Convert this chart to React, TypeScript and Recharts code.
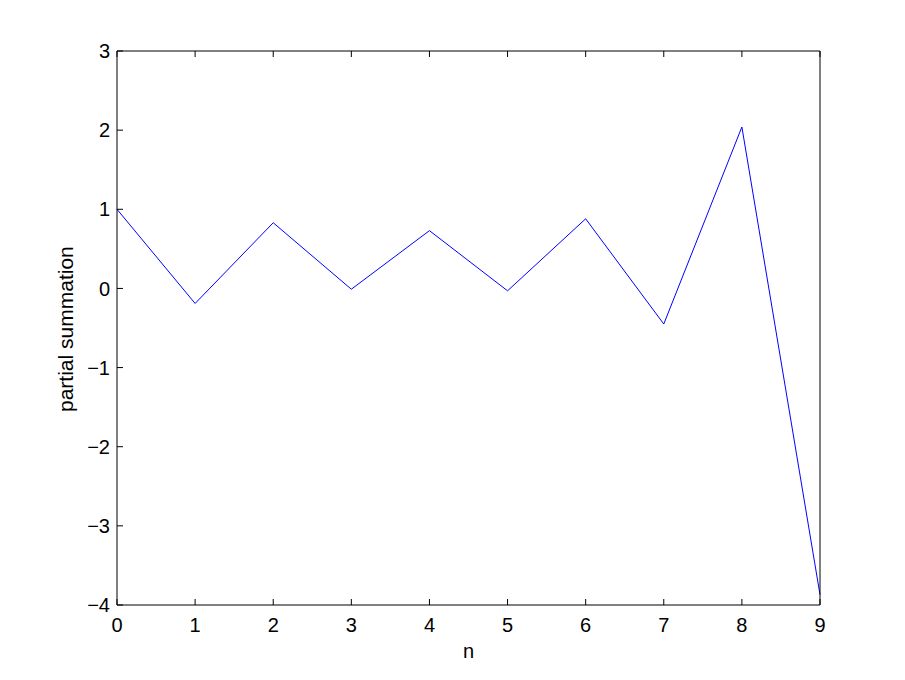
import { LineChart, Line, XAxis, YAxis } from "recharts";

const nValues = [0, 1, 2, 3, 4, 5, 6, 7, 8, 9];
const partialSums = [1.0, -0.19, 0.83, -0.01, 0.73, -0.03, 0.88, -0.45, 2.04, -3.87];
const xTicks = [0, 1, 2, 3, 4, 5, 6, 7, 8, 9];
const yTicks = [-4, -3, -2, -1, 0, 1, 2, 3];

const data = nValues.map((n, i) => ({ n, s: partialSums[i] }));

const fmt = (v: number) => String(v).replace("-", "\u2212");
const family = "'Liberation Sans', Arial, sans-serif";
const tickFont = { fontFamily: family, fontSize: 20, fill: "#000" };
// mirror axes on top/right: tick marks only, no labels
const noLabel = () => <g />;

export default function App() {
  return (
    <div style={{ position: "absolute", left: 0, top: 0, background: "#fff" }}>
      <LineChart width={905} height={680} data={data} margin={{ top: 50, right: 55, bottom: 45, left: 57 }}>
        <XAxis
          dataKey="n"
          type="number"
          domain={[0, 9]}
          ticks={xTicks}
          tickSize={-6}
          tickMargin={19}
          stroke="#000"
          tick={tickFont}
          height={30}
          label={{ value: "n", position: "insideBottom", dy: 28, fontFamily: family, fontSize: 20, fill: "#000" }}
        />
        <XAxis xAxisId="top" orientation="top" dataKey="n" type="number" domain={[0, 9]} ticks={xTicks} tickSize={-6} tick={noLabel} stroke="#000" height={1} />
        <YAxis
          type="number"
          domain={[-4, 3]}
          ticks={yTicks}
          tickSize={-6}
          tickMargin={13}
          tickFormatter={fmt}
          stroke="#000"
          tick={tickFont}
          width={60}
          label={{ value: "partial summation", angle: -90, position: "insideLeft", dx: 4, dy: 84, fontFamily: family, fontSize: 21, fill: "#000" }}
        />
        <YAxis yAxisId="right" orientation="right" type="number" domain={[-4, 3]} ticks={yTicks} tickSize={-6} tick={noLabel} stroke="#000" width={30} />
        <Line dataKey="s" stroke="#0000ff" strokeWidth={1} dot={false} isAnimationActive={false} />
      </LineChart>
    </div>
  );
}
